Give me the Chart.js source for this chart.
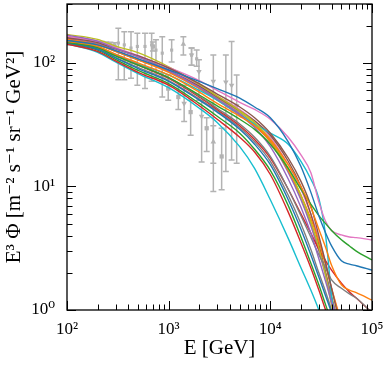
<!DOCTYPE html>
<html><head><meta charset="utf-8">
<script src="https://cdn.jsdelivr.net/npm/chart.js@4.4.0/dist/chart.umd.min.js"></script>
<style>html,body{margin:0;padding:0;background:#fff}</style>
</head><body>
<canvas id="c" width="390" height="369"></canvas>
<script>
// ---- energy grid for model curves (GeV)
const energyGrid = [100, 200, 300, 500, 1000, 2000, 3000, 5000, 7000, 10000, 15000, 20000, 25000, 30000, 35000, 40000, 50000, 60000, 70000, 100000];

// ---- model curves E^3 Phi
const curve00 = [152, 140, 126, 108, 88, 71, 62, 52, 44, 36, 23, 14.5, 9, 5.8, 4.2, 3.3, 2.5, 2.35, 2.28, 2.1];
const curve01 = [150, 136, 118, 100, 80, 58, 47, 37, 31, 24, 15, 10, 6.8, 4.5, 3.2, 2.3, 1.6, 1.45, 1.38, 1.2];
const curve02 = [147, 133, 114, 96, 76, 55, 45, 35, 29, 22, 14, 9.5, 7.2, 5.8, 5.0, 4.4, 3.7, 3.3, 3.0, 2.54];
const curve03 = [142, 124, 104, 84, 66, 45, 35, 25, 19, 12.5, 6.2, 3.5, 2.2, 1.45, 1.0, 0.75, 0.4, 0.25, 0.2, 0.1];
const curve04 = [168, 150, 131, 112, 87, 63, 51, 38, 30, 21, 11.5, 6.8, 4.2, 2.6, 1.7, 1.15, 0.55, 0.3, 0.2, 0.1];
const curve05 = [160, 146, 130, 114, 91, 68, 56, 44, 36, 27, 17, 11, 7, 4, 2.4, 1.5, 0.7, 0.4, 0.3, 0.2];
const curve06 = [163, 148, 131, 113, 92, 72, 60, 48, 42, 35, 25, 18, 13, 7.5, 5.2, 4.4, 4.05, 3.9, 3.85, 3.69];
const curve07 = [150, 135, 116, 97, 76, 54, 43, 32, 25, 17.5, 9.5, 5.8, 3.9, 2.8, 2.2, 1.75, 1.5, 1.35, 1.25, 0.95];
const curve08 = [170, 155, 137, 121, 93, 67, 54, 41, 33, 24, 14, 8.5, 5.2, 3.2, 1.9, 1.1, 0.5, 0.3, 0.2, 0.1];
const curve09 = [150, 135, 117, 98, 80, 60, 50, 38, 32, 27, 22, 16, 11.5, 8, 4, 1.3, 0.3, 0.15, 0.1, 0.05];
const curve10 = [145, 129, 110, 90, 71, 50, 40, 29, 22, 15, 7.8, 4.5, 2.8, 1.85, 1.3, 0.95, 0.5, 0.3, 0.2, 0.1];
const curve11 = [156, 141, 124, 106, 84, 62, 50, 38, 31, 23, 13.5, 8.5, 5.5, 3.6, 2.3, 1.5, 0.8, 0.5, 0.3, 0.2];
const curve12 = [144, 127, 107, 87, 68, 47, 37, 27, 20, 13.5, 7, 3.9, 2.4, 1.6, 1.1, 0.8, 0.45, 0.3, 0.2, 0.1];
const curve13 = [148, 133, 115, 96, 75, 53, 42, 31, 24, 17, 9.5, 6, 4.2, 3.1, 2.5, 2.1, 1.65, 1.4, 1.25, 0.95];
const curve14 = [158, 143, 126, 108, 85, 63, 51, 39, 31, 23, 13, 7.8, 4.8, 3, 1.9, 1.25, 0.6, 0.3, 0.2, 0.1];
const curve15 = [155, 141, 124, 106, 86, 65, 53, 41, 34, 26, 16, 10, 6, 3.4, 2.0, 1.25, 0.6, 0.3, 0.2, 0.1];
const curve16 = [165, 150, 133, 115, 90, 66, 54, 42, 34, 25, 15, 9.5, 6, 3.8, 2.4, 1.5, 0.75, 0.4, 0.3, 0.2];
const curve17 = [146, 130, 111, 92, 72, 51, 41, 30, 23, 16, 8.5, 5, 3.1, 2.0, 1.4, 1.0, 0.55, 0.3, 0.2, 0.1];
const curve18 = [162, 147, 130, 112, 88, 64, 52, 40, 32, 23.5, 13.5, 8, 5, 3.1, 2.0, 1.3, 0.65, 0.35, 0.25, 0.15];
const curve19 = [143, 122, 102, 82, 63, 43, 33, 21, 14, 7.8, 3.8, 2.2, 1.45, 1.0, 0.7, 0.5, 0.25, 0.15, 0.1, 0.05];
const curves = [curve00, curve01, curve02, curve03, curve04, curve05, curve06, curve07, curve08, curve09,
                curve10, curve11, curve12, curve13, curve14, curve15, curve16, curve17, curve18, curve19];
const curveColors = ['#1f77b4', '#ff7f0e', '#2ca02c', '#d62728', '#9467bd', '#8c564b', '#e377c2', '#7f7f7f', '#bcbd22', '#17becf'];

// ---- measured points (grey): energy, value, lower, upper
const circE  = [105, 115, 126, 138, 152, 167, 183, 201, 221, 243, 267, 293];
const circY  = [147, 146, 146, 145, 145, 144, 143, 143, 142, 141, 140, 139];
const circLo = [140, 139, 139, 138, 138, 137, 136, 136, 135, 134, 133, 132];
const circHi = [154, 153, 153, 152, 152, 151, 150, 150, 149, 148, 147, 146];

const dotE  = [320, 366, 426, 492, 585, 680, 750, 865, 1070, 1680, 1885];
const dotY  = [145, 140, 132, 136, 136, 140, 127, 120, 127, 116, 108];
const dotLo = [73, 73, 75, 66, 62, 71, 75, 53, 102, 96, 94];
const dotHi = [191, 179, 179, 174, 174, 174, 154, 163, 154, 132, 127];

const sqE  = [700, 990, 1245, 1645, 2365, 3320];
const sqY  = [136, 62, 53, 40, 29.6, 17.5];
const sqLo = [125, 50, 42, 26, 19.2, 9.4];
const sqHi = [148, 80, 66, 50, 36, 29.6];

const triUpE  = [1395, 2750];
const triUpY  = [142, 23];
const triUpLo = [116, 9.1];
const triUpHi = [163, 31];

const triDnE  = [1420, 1680, 1985, 2110, 2750, 3650, 4160, 4665];
const triDnY  = [47, 116, 85, 37, 71, 70, 66, 45];
const triDnLo = [33.5, 96, 50, 15.8, 15.4, 13.2, 16.4, 15.4];
const triDnHi = [66, 132, 106, 50, 116, 116, 149, 80];

// ---- axes
const xMin = 100, xMax = 100000, yMin = 1, yMax = 300;
const xTickValues = [100, 1000, 10000, 100000];
const xTickLabels = ['10²', '10³', '10⁴', '10⁵'];
const yTickValues = [1, 10, 100];
const yTickLabels = ['10⁰', '10¹', '10²'];

const GREY = '#b3b3b3';
const FONT = "'Liberation Serif', 'DejaVu Serif', serif";

function pts(xs, ys) { return xs.map((v, i) => ({x: v, y: ys[i]})); }

const datasets = [];
curves.forEach((c, i) => {
  datasets.push({
    data: pts(energyGrid, c), showLine: true, borderColor: curveColors[i % 10],
    borderWidth: 1.4, pointRadius: 0, cubicInterpolationMode: 'monotone', order: 1, fill: false
  });
});
function grey(xs, ys, lo, hi, style, radius, rot) {
  datasets.push({
    data: pts(xs, ys), errLo: lo, errHi: hi, showLine: false, pointStyle: style,
    pointRadius: radius, pointRotation: rot || 0, backgroundColor: GREY, borderColor: GREY,
    borderWidth: 0, order: 5
  });
}
grey(circE, circY, circLo, circHi, 'circle', 2.2);
grey(dotE, dotY, dotLo, dotHi, 'rect', 2.2);
grey(sqE, sqY, sqLo, sqHi, 'rect', 3);
grey(triUpE, triUpY, triUpLo, triUpHi, 'triangle', 3.2);
grey(triDnE, triDnY, triDnLo, triDnHi, 'triangle', 3.2, 180);

const errorBars = {
  id: 'errorBars',
  beforeDatasetsDraw(chart) {
    const {ctx, chartArea: a, scales: {x, y}} = chart;
    ctx.save();
    ctx.beginPath(); ctx.rect(a.left, a.top, a.right - a.left, a.bottom - a.top); ctx.clip();
    ctx.strokeStyle = GREY; ctx.lineWidth = 1.5;
    chart.data.datasets.forEach(ds => {
      if (!ds.errLo) return;
      ds.data.forEach((p, i) => {
        const px = x.getPixelForValue(p.x);
        const pl = y.getPixelForValue(ds.errLo[i]);
        const ph = y.getPixelForValue(ds.errHi[i]);
        ctx.beginPath();
        ctx.moveTo(px, pl); ctx.lineTo(px, ph);
        ctx.moveTo(px - 3, pl); ctx.lineTo(px + 3, pl);
        ctx.moveTo(px - 3, ph); ctx.lineTo(px + 3, ph);
        ctx.stroke();
      });
    });
    ctx.restore();
  }
};

function logTickValues(min, max) {
  const out = [];
  for (let e = Math.floor(Math.log10(min)); e <= Math.ceil(Math.log10(max)); e++) {
    for (let m = 1; m <= 9; m++) {
      const v = m * Math.pow(10, e);
      if (v >= min * 0.999 && v <= max * 1.001) out.push({v, major: m === 1});
    }
  }
  return out;
}

const frameTicks = {
  id: 'frameTicks',
  afterDatasetsDraw(chart) {
    const {ctx, chartArea: a, scales: {x, y}} = chart;
    ctx.save();
    ctx.strokeStyle = '#000'; ctx.lineWidth = 1;
    logTickValues(xMin, xMax).forEach(t => {
      const px = Math.round(x.getPixelForValue(t.v)) + 0.5;
      const L = t.major ? 9 : 5.5;
      ctx.beginPath();
      ctx.moveTo(px, a.bottom); ctx.lineTo(px, a.bottom - L);
      ctx.moveTo(px, a.top); ctx.lineTo(px, a.top + L);
      ctx.stroke();
    });
    logTickValues(yMin, yMax).forEach(t => {
      const py = Math.round(y.getPixelForValue(t.v)) + 0.5;
      const L = t.major ? 9 : 5.5;
      ctx.beginPath();
      ctx.moveTo(a.left, py); ctx.lineTo(a.left + L, py);
      ctx.moveTo(a.right, py); ctx.lineTo(a.right - L, py);
      ctx.stroke();
    });
    ctx.lineWidth = 1.3;
    ctx.strokeRect(a.left, a.top, a.right - a.left, a.bottom - a.top);
    ctx.restore();
  }
};

new Chart(document.getElementById('c'), {
  type: 'scatter',
  data: {datasets},
  plugins: [errorBars, frameTicks],
  options: {
    responsive: false, animation: false, devicePixelRatio: 1,
    layout: {padding: {left: 0, right: 18, top: 4, bottom: 0}},
    plugins: {legend: {display: false}, tooltip: {enabled: false}},
    scales: {
      x: {
        type: 'logarithmic', min: xMin, max: xMax,
        grid: {display: false}, border: {display: false},
        afterBuildTicks: s => { s.ticks = xTickValues.map(v => ({value: v})); },
        afterFit: s => { s.height = 59; s.paddingLeft = 0; s.paddingRight = 0; },
        ticks: {
          autoSkip: false, maxRotation: 0, padding: 1, color: '#000',
          font: {family: FONT, size: 17},
          callback: (v) => { const i = xTickValues.indexOf(v); return i >= 0 ? xTickLabels[i] : ''; }
        },
        title: {display: true, text: 'E [GeV]', color: '#000', font: {family: FONT, size: 21}, padding: {top: 0, bottom: 8}}
      },
      y: {
        type: 'logarithmic', min: yMin, max: yMax,
        grid: {display: false}, border: {display: false},
        afterBuildTicks: s => { s.ticks = yTickValues.map(v => ({value: v})); },
        afterFit: s => { s.width = 67; s.paddingTop = 0; s.paddingBottom = 0; },
        ticks: {
          autoSkip: false, padding: 4, color: '#000',
          font: {family: FONT, size: 17},
          callback: (v) => { const i = yTickValues.indexOf(v); return i >= 0 ? yTickLabels[i] : ''; }
        },
        title: {display: true, text: 'E³ Φ [m⁻² s⁻¹ sr⁻¹ GeV²]', color: '#000', font: {family: FONT, size: 21}, padding: {top: 2, bottom: 0}}
      }
    }
  }
});
</script>
</body></html>
